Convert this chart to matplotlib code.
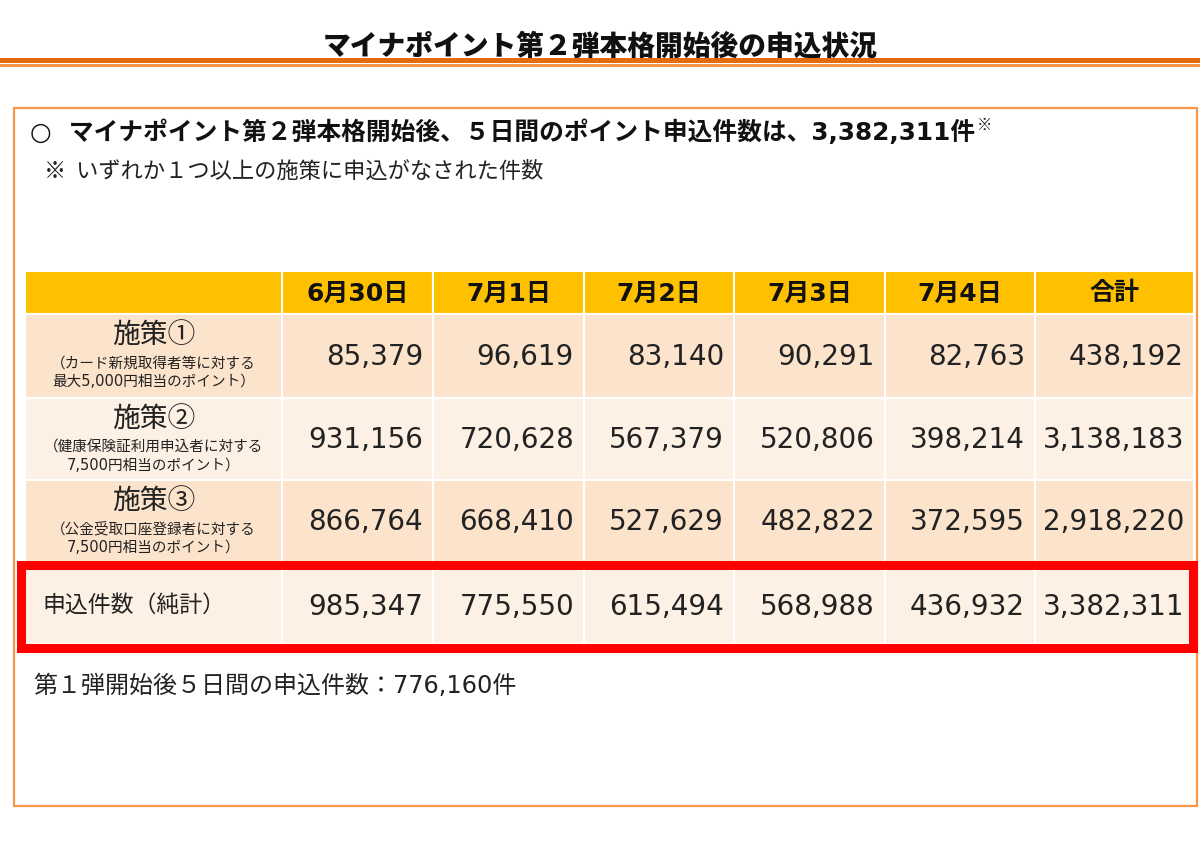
import matplotlib.pyplot as plt
from matplotlib.patches import Rectangle

plt.rcParams['font.family'] = ['Noto Sans CJK JP', 'DejaVu Sans']
NUM = ['DejaVu Sans', 'Noto Sans CJK JP']  # 数字は幅の広い書体で

# 表のデータ
dates = ['6月30日', '7月1日', '7月2日', '7月3日', '7月4日', '合計']
measures = ['施策①', '施策②', '施策③']
notes = ['（カード新規取得者等に対する\n最大5,000円相当のポイント）',
         '（健康保険証利用申込者に対する\n7,500円相当のポイント）',
         '（公金受取口座登録者に対する\n7,500円相当のポイント）']
m1 = [85379, 96619, 83140, 90291, 82763, 438192]
m2 = [931156, 720628, 567379, 520806, 398214, 3138183]
m3 = [866764, 668410, 527629, 482822, 372595, 2918220]
net_label = '申込件数（純計）'
net = [985347, 775550, 615494, 568988, 436932, 3382311]

title = 'マイナポイント第２弾本格開始後の申込状況'
lead = '○  マイナポイント第２弾本格開始後、５日間のポイント申込件数は、3,382,311件'
lead_note = '※  いずれか１つ以上の施策に申込がなされた件数'
footer = '第１弾開始後５日間の申込件数：776,160件'

W, H = 1200, 851
fig = plt.figure(figsize=(W / 100, H / 100), dpi=100)
ax = fig.add_axes([0, 0, 1, 1])
ax.set_xlim(0, W)
ax.set_ylim(H, 0)
ax.axis('off')

# タイトルと下線
ax.text(600, 46, title, ha='center', va='center', fontsize=20, fontweight='black', color='#111111')
ax.add_patch(Rectangle((0, 58), W, 5, color='#E46C0A', lw=0))
ax.add_patch(Rectangle((0, 64), W, 2.5, color='#F79646', lw=0))

# 外枠
ax.add_patch(Rectangle((14, 108), 1183, 698, fill=False, ec='#F79646', lw=1.6))

t = ax.text(30, 132, lead, ha='left', va='center', fontsize=17.8, fontweight='bold',
            color='#111111', family=NUM)
fig.canvas.draw()
bb = t.get_window_extent().transformed(ax.transData.inverted())
ax.text(bb.x1 + 2, 125, '※', ha='left', va='center', fontsize=11, fontweight='bold', color='#111111')
ax.text(44, 171, lead_note, ha='left', va='center', fontsize=16, color='#222222')

# 表のレイアウト
xs = [25, 282, 433, 584, 734, 885, 1035, 1194]
hdr = (271, 314)
rows_y = [(314, 398), (398, 480), (480, 562)]
net_y = (567, 644)
gold = '#FFC000'
peach = '#FBE3CC'
light = '#FDF0E4'

# ヘッダー
for i in range(len(xs) - 1):
    ax.add_patch(Rectangle((xs[i], hdr[0]), xs[i + 1] - xs[i], hdr[1] - hdr[0],
                           fc=gold, ec='white', lw=1.5))
for j, d in enumerate(dates):
    ax.text((xs[j + 1] + xs[j + 2]) / 2, (hdr[0] + hdr[1]) / 2 + 1, d, ha='center', va='center',
            fontsize=18, fontweight='bold', color='#111111', family=NUM)

# 施策の行
series = [m1, m2, m3]
for r, (y0, y1) in enumerate(rows_y):
    fc = peach if r % 2 == 0 else light
    for i in range(len(xs) - 1):
        ax.add_patch(Rectangle((xs[i], y0), xs[i + 1] - xs[i], y1 - y0, fc=fc, ec='white', lw=1.5))
    cx = (xs[0] + xs[1]) / 2
    ax.text(cx, y0 + 22, measures[r], ha='center', va='center', fontsize=20, color='#222222')
    ax.text(cx, y0 + 58, notes[r], ha='center', va='center', fontsize=10.5, color='#222222',
            linespacing=1.3, family=NUM)
    for j, v in enumerate(series[r]):
        ax.text(xs[j + 2] - 10, (y0 + y1) / 2 + 1, f'{v:,}', ha='right', va='center',
                fontsize=20, color='#222222', family=NUM)

# 純計の行
for i in range(len(xs) - 1):
    ax.add_patch(Rectangle((xs[i], net_y[0]), xs[i + 1] - xs[i], net_y[1] - net_y[0],
                           fc=light, ec='white', lw=1.5))
ax.text(42, (net_y[0] + net_y[1]) / 2, net_label, ha='left', va='center', fontsize=16.5, color='#222222')
for j, v in enumerate(net):
    ax.text(xs[j + 2] - 10, (net_y[0] + net_y[1]) / 2 + 1, f'{v:,}', ha='right', va='center',
            fontsize=20, color='#222222', family=NUM)
ax.add_patch(Rectangle((20.5, 564.5), 1172.5, 83, fill=False, ec='#FF0000', lw=6.5))

ax.text(33, 686, footer, ha='left', va='center', fontsize=17.3, color='#222222', family=NUM)

fig.savefig('out.png', dpi=100, facecolor='white')
